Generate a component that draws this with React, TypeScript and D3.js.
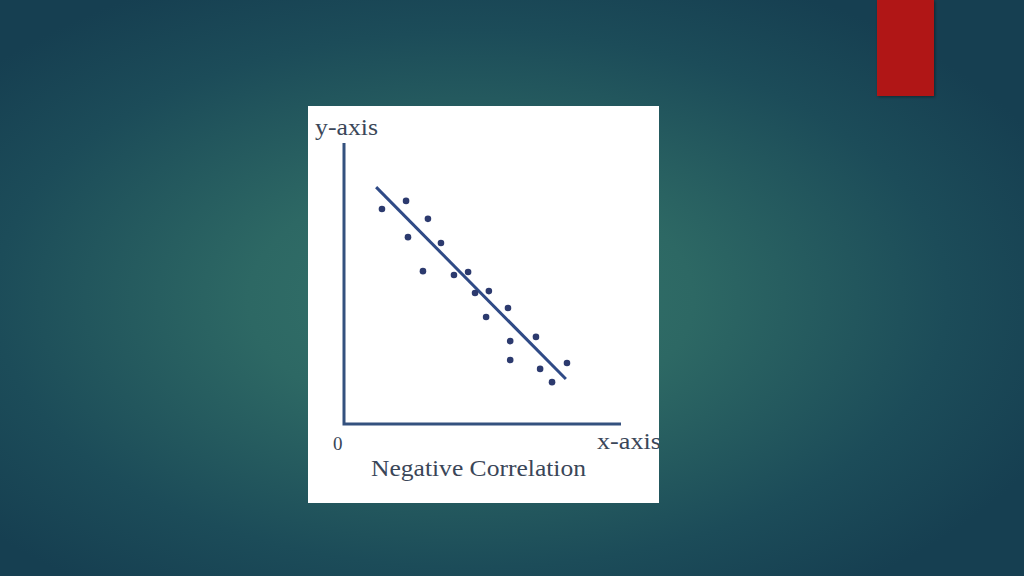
import React from "react";
import * as d3 from "d3";

// Scatter points (x, y) in chart units
const pointX = [1.37, 2.24, 3.03, 2.31, 3.5, 2.85, 3.97, 4.48, 4.73, 5.23, 5.92, 5.13, 6.93, 6.0, 6.0, 7.08, 8.05, 7.51];
const pointY = [7.65, 7.94, 7.3, 6.65, 6.44, 5.44, 5.3, 5.41, 4.66, 4.73, 4.13, 3.81, 3.1, 2.95, 2.28, 1.96, 2.17, 1.49];
// Trend line end points
const lineX = [1.16, 8.01];
const lineY = [8.43, 1.6];
// Axis labels
const yAxisLabel = "y-axis";
const xAxisLabel = "x-axis";
const originLabel = "0";
const chartTitle = "Negative Correlation";

export default function App() {
  const W = 1024;
  const H = 576;
  const x = d3.scaleLinear().domain([0, 10]).range([344, 621]);
  const y = d3.scaleLinear().domain([0, 10]).range([424, 143]);
  const line = d3
    .line<number>()
    .x((d) => x(lineX[d]))
    .y((d) => y(lineY[d]));
  const axisColor = "#34517e";
  const textColor = "#3a4658";
  const font = "'Liberation Serif', 'DejaVu Serif', serif";

  return (
    <svg
      width={W}
      height={H}
      viewBox={`0 0 ${W} ${H}`}
      style={{ position: "fixed", left: 0, top: 0, display: "block" }}
    >
      <defs>
        <radialGradient id="bg" cx="46%" cy="52%" r="62%" gradientUnits="objectBoundingBox">
          <stop offset="0%" stopColor="#35756b" />
          <stop offset="35%" stopColor="#2d6864" />
          <stop offset="75%" stopColor="#1c4c59" />
          <stop offset="100%" stopColor="#163f51" />
        </radialGradient>
        <clipPath id="box">
          <rect x={308} y={106} width={351} height={397} />
        </clipPath>
        <filter id="sh" x="-20%" y="-20%" width="140%" height="140%">
          <feDropShadow dx="1" dy="1" stdDeviation="1.5" floodColor="#000" floodOpacity="0.4" />
        </filter>
      </defs>
      <rect x={0} y={0} width={W} height={H} fill="url(#bg)" />
      <rect x={877} y={0} width={57} height={96} fill="#b01917" filter="url(#sh)" />

      <rect x={308} y={106} width={351} height={397} fill="#ffffff" />
      <g clipPath="url(#box)">
        <path
          d={`M${x(0)},${y(10)}V${y(0)}H${x(10)}`}
          fill="none"
          stroke={axisColor}
          strokeWidth={3}
        />
        <path d={line([0, 1]) || ""} fill="none" stroke="#2f4a86" strokeWidth={3} />
        {pointX.map((px, i) => (
          <circle key={i} cx={x(px)} cy={y(pointY[i])} r={3.3} fill="#2c3a6e" />
        ))}
        <text x={315} y={135} fontFamily={font} fontSize={23} fill={textColor} textLength={63} lengthAdjust="spacingAndGlyphs">
          {yAxisLabel}
        </text>
        <text x={333} y={450} fontFamily={font} fontSize={19} fill={textColor}>
          {originLabel}
        </text>
        <text x={597} y={449} fontFamily={font} fontSize={23} fill={textColor} textLength={64} lengthAdjust="spacingAndGlyphs">
          {xAxisLabel}
        </text>
        <text x={371} y={476} fontFamily={font} fontSize={24} fill={textColor} textLength={215} lengthAdjust="spacingAndGlyphs">
          {chartTitle}
        </text>
      </g>
    </svg>
  );
}
